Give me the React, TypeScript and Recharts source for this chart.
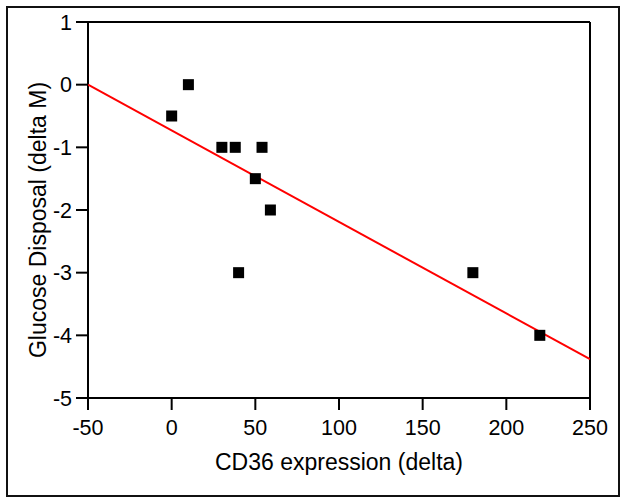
import {
  Label,
  ReferenceLine,
  Scatter,
  ScatterChart,
  XAxis,
  YAxis,
} from "recharts";

const cd36Delta = [0, 10, 30, 38, 54, 50, 59, 40, 180, 220];
const glucoseDelta = [-0.5, 0, -1, -1, -1, -1.5, -2, -3, -3, -4];

const fitX = [-50, 250];
const fitY = [0, -4.38];

const xTicks = [-50, 0, 50, 100, 150, 200, 250];
const yTicks = [-5, -4, -3, -2, -1, 0, 1];

const points = cd36Delta.map((x, i) => ({ x, y: glucoseDelta[i] }));
const fitLine = fitX.map((x, i) => ({ x, y: fitY[i] }));

const font = { fontFamily: "'Liberation Sans', Arial, sans-serif" };
const tickStyle = { fill: "#000", fontSize: 21.5, ...font };
const axisLine = { stroke: "#000", strokeWidth: 2 };

const SquareMark = (p: any) => (
  <rect x={p.cx - 5.5} y={p.cy - 5.5} width={11} height={11} fill="#000" />
);

export default function App() {
  return (
    <div style={{ position: "absolute", left: 0, top: 0, width: 625, height: 502, background: "#fff" }}>
      <div
        style={{
          position: "absolute",
          left: 6,
          top: 6,
          width: 610,
          height: 487,
          border: "2px solid #111",
        }}
      />
      <ScatterChart
        width={625}
        height={502}
        margin={{ top: 22, right: 35, bottom: 0, left: 0 }}
        style={{ position: "absolute", left: 0, top: 0 }}
      >
        <XAxis
          type="number"
          dataKey="x"
          domain={[-50, 250]}
          ticks={xTicks}
          allowDataOverflow
          height={104}
          tickSize={12}
          tickMargin={10}
          tick={tickStyle}
          axisLine={axisLine}
          tickLine={axisLine}
        >
          <Label
            value="CD36 expression (delta)"
            position="insideBottom"
            offset={32}
            style={{ fill: "#000", fontSize: 23, ...font }}
          />
        </XAxis>
        <YAxis
          type="number"
          dataKey="y"
          domain={[-5, 1]}
          ticks={yTicks}
          allowDataOverflow
          width={88}
          tickSize={12}
          tickMargin={4}
          tick={tickStyle}
          axisLine={axisLine}
          tickLine={axisLine}
        >
          <Label
            content={(p: any) => {
              const vb = p.viewBox;
              const cx = vb.x + 38;
              const cy = vb.y + vb.height / 2 + 10;
              return (
                <text
                  x={cx}
                  y={cy}
                  transform={`rotate(-90 ${cx} ${cy})`}
                  textAnchor="middle"
                  dominantBaseline="central"
                  fill="#000"
                  fontSize={23}
                  fontFamily={font.fontFamily}
                >
                  Glucose Disposal (delta M)
                </text>
              );
            }}
          />
        </YAxis>
        <ReferenceLine y={1} stroke="#000" strokeWidth={2} />
        <ReferenceLine x={250} stroke="#000" strokeWidth={2} />
        <Scatter
          data={fitLine}
          line={{ stroke: "#ff0000", strokeWidth: 2 }}
          shape={() => <g />}
          isAnimationActive={false}
        />
        <Scatter data={points} fill="#000" shape={SquareMark} isAnimationActive={false} />
      </ScatterChart>
    </div>
  );
}
